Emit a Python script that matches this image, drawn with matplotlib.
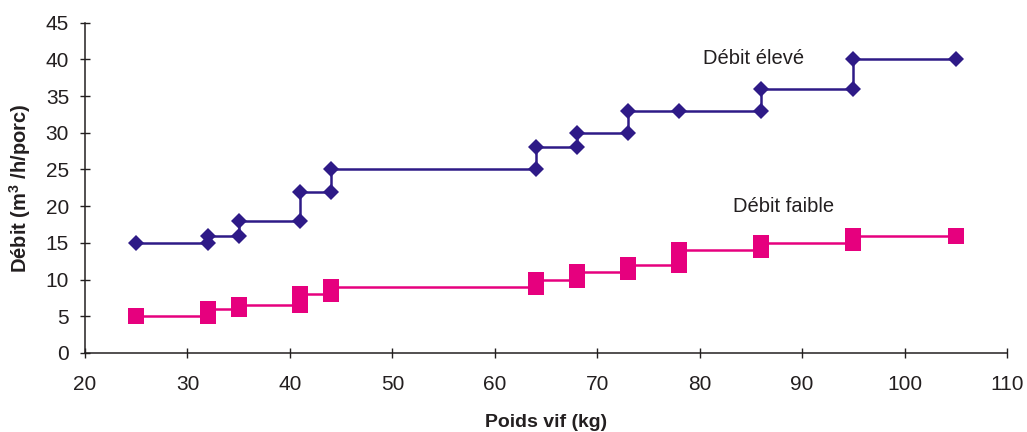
import matplotlib
matplotlib.use("Agg")
import matplotlib.pyplot as plt

plt.rcParams['font.family'] = ['Liberation Sans', 'DejaVu Sans']
plt.rcParams['mathtext.fontset'] = 'custom'
plt.rcParams['mathtext.rm'] = 'Liberation Sans:bold'
plt.rcParams['mathtext.bf'] = 'Liberation Sans:bold'

# Débit élevé (step series: each change listed as two points)
high_x = [25, 32, 32, 35, 35, 41, 41, 44, 44, 64, 64, 68, 68, 73, 73, 78, 86, 86, 95, 95, 105]
high_y = [15, 15, 16, 16, 18, 18, 22, 22, 25, 25, 28, 28, 30, 30, 33, 33, 33, 36, 36, 40, 40]

# Débit faible
low_x = [25, 32, 32, 35, 35, 41, 41, 44, 44, 64, 64, 68, 68, 73, 73, 78, 78, 86, 86, 95, 95, 105]
low_y = [5, 5, 6, 6, 6.5, 6.5, 8, 8, 9, 9, 10, 10, 11, 11, 12, 12, 14, 14, 15, 15, 16, 16]

x_ticks = [20, 30, 40, 50, 60, 70, 80, 90, 100, 110]
y_ticks = [0, 5, 10, 15, 20, 25, 30, 35, 40, 45]

blue = '#2E1A87'
pink = '#E6007E'
ink = '#231F20'

fig = plt.figure(figsize=(10.27, 4.32), dpi=100)
ax = fig.add_axes([0.0828, 0.1829, 0.8977, 0.7646])

ax.plot(high_x, high_y, color=blue, lw=1.8, marker='D', ms=7.8,
        markerfacecolor=blue, markeredgecolor=blue, markeredgewidth=0)
ax.plot(low_x, low_y, color=pink, lw=1.8, marker='s', ms=11.5,
        markerfacecolor=pink, markeredgecolor=pink, markeredgewidth=0)

ax.set_xlim(20, 110)
ax.set_ylim(0, 45)
ax.set_xticks(x_ticks)
ax.set_yticks(y_ticks)

for s in ['top', 'right']:
    ax.spines[s].set_visible(False)
for s in ['left', 'bottom']:
    ax.spines[s].set_color(ink)
    ax.spines[s].set_linewidth(1.1)

ax.tick_params(axis='both', direction='inout', length=7, width=1.0, color=ink,
               labelsize=15, labelcolor=ink)
ax.tick_params(axis='x', pad=12)
ax.tick_params(axis='y', pad=8)

ax.set_xlabel('Poids vif (kg)', fontsize=14, fontweight='bold', color=ink, labelpad=15)
ax.set_ylabel('Débit (m$^{3}$ /h/porc)', fontsize=14.5, fontweight='bold', color=ink, labelpad=9)

ax.text(85.3, 40.1, 'Débit élevé', fontsize=14.5, color=ink, ha='center', va='center')
ax.text(88.2, 19.9, 'Débit faible', fontsize=14.5, color=ink, ha='center', va='center')

fig.savefig('out.png', dpi=100)
